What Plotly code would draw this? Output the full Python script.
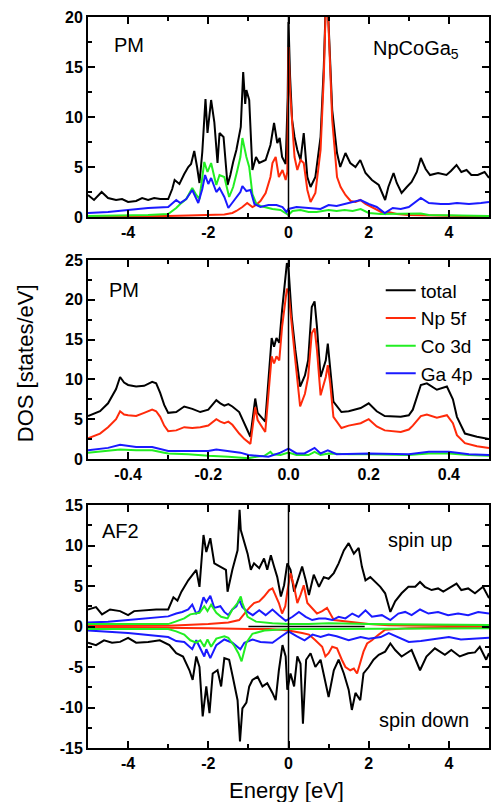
import plotly.graph_objects as go

# ---------------- Panel 1: PM, NpCoGa5, wide energy window ----------------
p1_total_x = [-5.0,-4.85,-4.66,-4.5,-4.3,-4.15,-4.0,-3.8,-3.65,-3.5,-3.35,-3.2,-3.0,-2.9,-2.84,-2.72,-2.6,-2.5,-2.43,-2.35,-2.28,-2.22,-2.15,-2.07,-2.02,-1.93,-1.85,-1.77,-1.72,-1.62,-1.52,-1.45,-1.38,-1.3,-1.19,-1.13,-1.08,-1.05,-0.98,-0.9,-0.81,-0.73,-0.57,-0.45,-0.36,-0.28,-0.22,-0.16,-0.07,-0.02,0.0,0.04,0.09,0.15,0.22,0.3,0.38,0.47,0.55,0.67,0.8,0.88,0.95,1.02,1.09,1.21,1.29,1.42,1.54,1.67,1.79,1.92,2.08,2.25,2.41,2.49,2.62,2.7,2.82,2.95,3.07,3.2,3.3,3.42,3.53,3.73,3.94,4.05,4.19,4.31,4.44,4.56,4.72,4.89,5.0]
p1_total_y = [2.2,1.7,2.5,1.9,1.7,1.8,1.5,1.6,1.9,1.7,1.9,1.8,1.8,2.8,3.7,3.3,4.3,5.0,5.3,6.6,5.0,3.4,6.5,11.8,8.4,11.7,9.5,5.4,8.4,8.0,3.2,4.2,5.5,6.7,9.0,14.5,11.3,12.7,11.7,4.7,6.0,5.4,5.7,7.2,9.4,7.4,7.9,6.0,5.3,12.0,19.5,14.0,9.7,8.0,6.7,5.7,8.4,4.0,3.0,4.0,8.0,15.0,24.0,18.0,10.7,6.4,5.0,6.4,5.4,5.0,5.7,4.4,3.7,3.2,1.7,3.0,4.4,3.4,2.4,3.0,3.5,4.5,5.9,4.8,4.2,4.4,4.2,4.6,5.2,4.5,4.7,4.2,4.2,4.5,3.9]

p1_np5f_x = [-5.0,-4.0,-3.0,-2.5,-2.0,-1.6,-1.4,-1.3,-1.15,-1.03,-0.9,-0.81,-0.7,-0.57,-0.45,-0.4,-0.32,-0.24,-0.15,-0.07,-0.03,0.0,0.04,0.09,0.15,0.22,0.3,0.38,0.47,0.55,0.67,0.8,0.88,0.95,1.02,1.09,1.21,1.3,1.42,1.55,1.67,1.79,1.92,2.08,2.25,2.41,2.5,2.7,3.0,3.5,4.0,5.0]
p1_np5f_y = [0.05,0.05,0.1,0.15,0.2,0.25,0.4,0.6,1.0,1.4,1.0,1.2,1.6,2.4,4.0,5.4,6.0,4.0,4.7,3.7,4.5,17.0,12.5,9.4,6.0,4.7,5.7,5.4,2.7,1.5,2.4,6.7,14.0,24.0,17.0,9.7,4.0,3.0,2.2,1.6,1.5,1.7,1.3,1.0,0.6,0.3,0.5,0.3,0.2,0.15,0.1,0.05]

p1_co3d_x = [-5.0,-4.0,-3.5,-3.0,-2.8,-2.7,-2.55,-2.4,-2.3,-2.22,-2.15,-2.1,-2.02,-1.93,-1.85,-1.8,-1.72,-1.6,-1.48,-1.38,-1.28,-1.2,-1.15,-1.1,-1.05,-0.98,-0.9,-0.8,-0.7,-0.6,-0.4,-0.2,-0.05,0.0,0.1,0.3,0.5,0.7,1.0,1.2,1.4,1.6,1.8,2.0,2.3,2.6,3.0,3.3,3.5,4.0,4.5,5.0]
p1_co3d_y = [0.1,0.15,0.2,0.3,0.9,1.3,1.8,2.9,2.2,1.8,4.0,5.5,4.5,5.4,4.0,3.2,4.2,4.0,2.0,3.0,4.6,6.0,7.9,6.8,6.0,5.0,2.3,1.3,1.1,1.0,0.8,0.7,0.3,0.2,0.6,0.7,0.5,0.5,0.7,0.6,0.7,0.6,0.8,0.4,0.3,0.3,0.3,0.35,0.2,0.15,0.1,0.1]

p1_ga4p_x = [-5.0,-4.5,-4.0,-3.5,-3.0,-2.8,-2.7,-2.55,-2.4,-2.25,-2.15,-2.08,-2.0,-1.93,-1.8,-1.72,-1.6,-1.5,-1.35,-1.2,-1.15,-1.05,-0.95,-0.85,-0.7,-0.5,-0.3,-0.15,-0.05,0.0,0.2,0.5,0.8,1.0,1.2,1.5,1.8,2.0,2.2,2.4,2.6,2.8,3.0,3.3,3.5,3.8,4.0,4.2,4.5,4.8,5.0]
p1_ga4p_y = [0.4,0.5,0.7,0.9,1.0,1.7,1.4,1.8,2.7,1.4,2.8,4.2,3.3,3.9,2.5,2.9,2.0,0.9,1.7,2.5,3.1,2.6,2.7,1.3,1.0,1.2,1.2,1.0,0.5,0.8,1.0,0.9,0.8,1.2,1.1,1.4,1.7,1.3,1.0,0.4,0.9,0.8,1.0,1.9,1.4,1.3,1.3,1.4,1.3,1.4,1.5]

# ---------------- Panel 2: PM, narrow window around E_F ----------------
p2_total_x = [-0.5,-0.47,-0.45,-0.43,-0.42,-0.41,-0.4,-0.38,-0.36,-0.34,-0.33,-0.32,-0.31,-0.3,-0.28,-0.26,-0.24,-0.22,-0.2,-0.18,-0.17,-0.16,-0.15,-0.14,-0.123,-0.11,-0.095,-0.083,-0.077,-0.058,-0.042,-0.036,-0.03,-0.023,-0.016,-0.004,0.0,0.008,0.017,0.029,0.041,0.049,0.058,0.065,0.071,0.08,0.086,0.093,0.098,0.104,0.112,0.132,0.15,0.18,0.2,0.22,0.24,0.28,0.3,0.31,0.33,0.345,0.37,0.395,0.41,0.42,0.44,0.47,0.5]
p2_total_y = [5.4,6.0,7.0,8.8,10.3,9.6,9.3,9.1,9.2,9.7,9.5,8.3,6.8,5.8,5.9,6.6,6.3,5.9,6.2,7.4,7.0,6.7,6.9,6.6,5.9,4.5,2.8,7.6,5.8,4.7,15.2,14.1,15.2,14.6,18.7,24.6,24.0,17.9,13.7,9.1,10.5,12.4,19.1,19.8,16.6,10.3,11.2,12.4,14.5,11.2,7.2,5.9,6.0,6.4,7.0,6.0,5.4,5.3,5.5,6.2,9.3,9.5,8.7,9.1,7.5,5.3,3.2,2.8,2.5]

p2_np5f_x = p2_total_x
p2_np5f_y = [2.6,3.2,4.0,5.0,6.0,5.6,5.5,5.4,5.8,6.2,6.0,5.3,4.2,3.5,3.6,4.0,3.9,4.0,4.2,5.0,4.7,4.5,4.7,4.3,3.2,2.5,1.9,6.5,4.9,3.4,12.9,12.0,12.9,12.4,16.6,21.4,21.0,16.6,12.4,6.6,8.2,10.3,15.8,16.4,13.7,8.0,9.1,10.3,11.8,9.5,5.3,3.9,4.2,4.5,5.0,4.1,3.6,3.4,3.7,4.2,5.4,5.6,5.2,5.5,4.5,3.0,2.0,1.6,1.4]

p2_co3d_x = [-0.5,-0.45,-0.42,-0.38,-0.34,-0.31,-0.3,-0.25,-0.2,-0.15,-0.12,-0.1,-0.08,-0.06,-0.045,-0.04,-0.02,0.0,0.02,0.05,0.065,0.08,0.1,0.15,0.2,0.3,0.35,0.4,0.45,0.5]
p2_co3d_y = [0.8,1.0,1.2,1.1,1.1,0.8,0.7,0.6,0.4,0.3,0.2,0.1,0.3,0.4,0.9,0.6,0.5,0.8,0.5,0.5,0.9,0.5,0.7,0.6,0.6,0.5,0.7,0.7,0.5,0.4]

p2_ga4p_x = [-0.5,-0.45,-0.42,-0.38,-0.34,-0.31,-0.3,-0.25,-0.2,-0.18,-0.15,-0.12,-0.1,-0.08,-0.05,-0.02,0.0,0.02,0.04,0.065,0.08,0.098,0.12,0.2,0.3,0.35,0.4,0.45,0.5]
p2_ga4p_y = [1.1,1.4,1.8,1.5,1.5,1.1,1.0,1.0,1.0,1.2,1.0,0.8,0.5,0.4,0.3,0.8,1.3,0.7,0.7,1.4,0.7,1.1,0.6,0.7,0.6,0.9,0.9,0.6,0.5]

# ---------------- Panel 3: AF2, spin up (+) and spin down (-) ----------------
p3_total_up_x = [-5.0,-4.8,-4.65,-4.45,-4.2,-4.0,-3.85,-3.6,-3.3,-3.0,-2.87,-2.77,-2.67,-2.5,-2.4,-2.3,-2.22,-2.12,-2.05,-1.95,-1.85,-1.72,-1.56,-1.52,-1.4,-1.27,-1.22,-1.19,-1.1,-1.02,-0.94,-0.86,-0.73,-0.61,-0.53,-0.44,-0.36,-0.28,-0.19,-0.11,-0.03,0.05,0.14,0.26,0.34,0.43,0.51,0.63,0.76,0.88,1.0,1.13,1.25,1.38,1.5,1.63,1.75,1.83,1.92,2.04,2.16,2.29,2.41,2.54,2.66,2.82,2.99,3.16,3.28,3.4,3.57,3.73,3.86,3.98,4.19,4.31,4.48,4.65,4.85,5.0]
p3_total_up_y = [2.1,2.4,1.5,2.1,1.9,1.4,1.9,2.0,2.1,2.1,3.6,3.2,4.3,5.7,6.3,7.0,4.9,11.3,9.2,10.9,7.8,7.4,7.0,4.3,7.0,9.4,14.4,11.9,10.3,9.0,7.0,7.8,7.2,8.4,7.0,8.8,7.4,6.1,3.7,5.1,7.8,7.0,4.3,6.1,7.4,5.7,3.9,6.4,4.9,6.1,5.9,6.6,7.8,9.4,10.3,9.0,9.7,7.4,5.7,6.1,5.5,4.9,4.1,1.8,3.1,4.1,4.9,4.9,5.5,4.9,4.5,4.7,4.3,4.7,5.3,4.5,4.7,4.1,4.9,3.5]

p3_total_dn_x = [-5.0,-4.8,-4.6,-4.4,-4.2,-4.0,-3.8,-3.5,-3.21,-2.97,-2.8,-2.63,-2.47,-2.39,-2.3,-2.22,-2.14,-2.05,-1.97,-1.89,-1.77,-1.68,-1.6,-1.48,-1.39,-1.27,-1.21,-1.15,-1.05,-0.98,-0.9,-0.77,-0.65,-0.53,-0.4,-0.32,-0.24,-0.15,-0.07,-0.03,0.05,0.14,0.22,0.3,0.36,0.44,0.55,0.67,0.8,0.88,1.0,1.13,1.25,1.38,1.5,1.58,1.67,1.79,1.87,2.0,2.12,2.25,2.41,2.54,2.66,2.82,3.07,3.28,3.44,3.65,3.9,4.06,4.27,4.48,4.65,4.77,4.93,5.0]
p3_total_dn_y = [-2.0,-2.3,-1.7,-2.0,-1.9,-1.4,-2.0,-1.9,-1.7,-2.3,-3.3,-3.7,-5.4,-6.6,-3.7,-5.0,-11.1,-7.4,-10.7,-5.8,-5.4,-7.4,-3.9,-4.1,-6.2,-9.1,-14.2,-10.1,-9.4,-7.4,-6.6,-6.2,-7.4,-7.0,-8.2,-9.1,-5.4,-2.3,-3.7,-7.8,-5.8,-7.4,-3.7,-4.6,-12.0,-4.1,-3.3,-5.0,-4.1,-5.8,-8.7,-5.4,-4.1,-5.8,-7.8,-10.3,-8.2,-9.1,-5.8,-5.0,-4.1,-3.5,-3.1,-2.1,-2.9,-3.7,-2.9,-5.4,-3.7,-2.7,-3.5,-2.9,-3.7,-3.3,-3.2,-2.5,-4.1,-3.3]

p3_np5f_up_x = [-5.0,-3.0,-2.0,-1.5,-1.23,-1.1,-0.98,-0.86,-0.73,-0.61,-0.48,-0.4,-0.32,-0.24,-0.16,-0.08,-0.03,0.05,0.14,0.22,0.3,0.38,0.47,0.59,0.71,0.84,0.96,1.13,1.33,1.6,2.0,2.5,3.0,4.0,5.0]
p3_np5f_up_y = [0.05,0.1,0.3,0.5,0.8,1.6,2.3,2.9,3.1,3.7,4.5,4.7,3.7,2.9,1.6,2.5,4.3,6.6,4.9,2.9,3.9,5.1,2.9,2.3,1.6,1.9,2.3,0.8,0.7,0.5,0.3,0.15,0.1,0.05,0.05]

p3_np5f_dn_x = [-5.0,-3.0,-2.0,-1.0,-0.5,-0.2,0.0,0.34,0.51,0.67,0.84,0.92,1.0,1.09,1.21,1.33,1.42,1.54,1.63,1.71,1.79,1.87,1.96,2.08,2.25,2.41,3.0,4.0,5.0]
p3_np5f_dn_y = [-0.05,-0.1,-0.2,-0.3,-0.3,-0.4,-0.5,-0.8,-1.0,-1.7,-2.5,-3.7,-3.3,-2.5,-2.7,-4.1,-5.0,-5.4,-5.2,-5.8,-4.5,-3.1,-2.1,-1.7,-1.0,-0.4,-0.2,-0.1,-0.05]

p3_co3d_up_x = [-5.0,-4.0,-3.0,-2.82,-2.6,-2.45,-2.22,-2.1,-2.02,-1.93,-1.8,-1.68,-1.52,-1.4,-1.27,-1.19,-1.15,-1.02,-0.81,-0.4,0.0,0.5,1.0,2.0,3.0,4.0,5.0]
p3_co3d_up_y = [0.3,0.3,0.3,0.6,1.0,1.5,1.7,2.5,1.9,2.7,1.7,1.2,1.0,2.1,2.9,3.7,2.9,1.2,0.6,0.4,0.3,0.3,0.4,0.3,0.25,0.2,0.2]

p3_co3d_dn_x = [-5.0,-4.0,-3.0,-2.8,-2.6,-2.45,-2.3,-2.2,-2.1,-2.02,-1.93,-1.8,-1.6,-1.5,-1.35,-1.25,-1.17,-1.05,-0.9,-0.6,0.0,1.0,3.0,5.0]
p3_co3d_dn_y = [-0.3,-0.3,-0.3,-0.6,-1.0,-1.7,-2.0,-1.7,-2.5,-1.6,-2.5,-1.5,-1.2,-1.4,-2.4,-3.3,-4.3,-2.0,-0.9,-0.5,-0.3,-0.3,-0.25,-0.2]

p3_ga4p_up_x = [-5.0,-4.5,-4.0,-3.5,-3.0,-2.8,-2.65,-2.5,-2.4,-2.3,-2.22,-2.12,-2.05,-1.95,-1.85,-1.7,-1.6,-1.5,-1.4,-1.3,-1.23,-1.15,-1.02,-0.89,-0.73,-0.57,-0.4,-0.24,-0.07,0.1,0.26,0.43,0.59,0.76,0.92,1.09,1.25,1.42,1.59,1.75,1.92,2.08,2.33,2.54,2.74,2.91,3.07,3.28,3.49,3.73,3.98,4.23,4.48,4.73,5.0]
p3_ga4p_up_y = [0.5,0.6,0.8,1.0,1.25,1.6,1.8,2.1,2.7,1.6,1.9,3.6,3.0,3.8,2.3,2.5,1.8,1.4,2.1,2.5,3.3,2.4,1.8,1.4,2.0,1.4,2.1,1.4,0.7,1.2,1.8,1.2,0.8,1.0,1.0,0.8,1.2,1.0,1.6,1.2,2.0,1.2,1.4,0.8,1.6,1.8,1.4,2.1,1.6,1.8,1.4,1.6,1.4,1.8,1.6]

p3_ga4p_dn_x = [-5.0,-4.0,-3.0,-2.8,-2.6,-2.4,-2.3,-2.1,-2.05,-1.95,-1.8,-1.6,-1.4,-1.2,-1.1,-0.9,-0.7,-0.4,-0.2,0.0,0.2,0.4,0.6,0.8,1.0,1.2,1.5,1.8,2.0,2.3,2.5,2.8,3.0,3.3,3.6,4.0,4.3,4.6,5.0]
p3_ga4p_dn_y = [-0.5,-0.8,-1.3,-1.8,-1.9,-2.8,-1.7,-3.7,-2.8,-3.9,-2.3,-1.6,-2.0,-2.8,-2.0,-1.6,-1.9,-2.0,-1.3,-0.6,-1.2,-1.7,-1.0,-1.3,-1.0,-1.2,-1.7,-1.3,-1.5,-1.3,-0.8,-1.5,-1.9,-1.8,-1.6,-1.3,-1.6,-1.5,-1.4]

p3_ref_x = [-1.0, 1.9]
p3_ref_y = [0.0, 0.0]

# ---------------- tick labels ----------------
wide_ticks = [-4, -2, 0, 2, 4]
wide_ticktext = ["-4", "-2", "0", "2", "4"]
narrow_ticks = [-0.4, -0.2, 0.0, 0.2, 0.4]
narrow_ticktext = ["-0.4", "-0.2", "0.0", "0.2", "0.4"]
p1_yticks = [0, 5, 10, 15, 20]
p1_yticktext = ["0", "5", "10", "15", "20"]
p2_yticks = [0, 5, 10, 15, 20, 25]
p2_yticktext = ["0", "5", "10", "15", "20", "25"]
p3_yticks = [-15, -10, -5, 0, 5, 10, 15]
p3_yticktext = ["-15", "-10", "-5", "0", "5", "10", "15"]

COL = {"total": "#000000", "Np 5f": "#ff2a0a", "Co 3d": "#22ee22", "Ga 4p": "#1a1aff"}
LW = 2.0
FONT = "Arial, Liberation Sans, sans-serif"

fig = go.Figure()

def add(x, y, name, xa, ya, legend=False):
    fig.add_trace(go.Scatter(x=x, y=y, mode="lines", name=name,
                             line=dict(color=COL[name], width=LW),
                             xaxis=xa, yaxis=ya, showlegend=legend,
                             legendgroup=name))

# panel 1
add(p1_total_x, p1_total_y, "total", "x", "y")
add(p1_np5f_x, p1_np5f_y, "Np 5f", "x", "y")
add(p1_co3d_x, p1_co3d_y, "Co 3d", "x", "y")
add(p1_ga4p_x, p1_ga4p_y, "Ga 4p", "x", "y")
# panel 2 (legend)
add(p2_total_x, p2_total_y, "total", "x2", "y2", True)
add(p2_np5f_x, p2_np5f_y, "Np 5f", "x2", "y2", True)
add(p2_co3d_x, p2_co3d_y, "Co 3d", "x2", "y2", True)
add(p2_ga4p_x, p2_ga4p_y, "Ga 4p", "x2", "y2", True)
# panel 3
add(p3_total_up_x, p3_total_up_y, "total", "x3", "y3")
add(p3_total_dn_x, p3_total_dn_y, "total", "x3", "y3")
add(p3_np5f_up_x, p3_np5f_up_y, "Np 5f", "x3", "y3")
add(p3_np5f_dn_x, p3_np5f_dn_y, "Np 5f", "x3", "y3")
add(p3_ga4p_up_x, p3_ga4p_up_y, "Ga 4p", "x3", "y3")
add(p3_ga4p_dn_x, p3_ga4p_dn_y, "Ga 4p", "x3", "y3")
add(p3_co3d_up_x, p3_co3d_up_y, "Co 3d", "x3", "y3")
add(p3_co3d_dn_x, p3_co3d_dn_y, "Co 3d", "x3", "y3")
fig.add_trace(go.Scatter(x=p3_ref_x, y=p3_ref_y, mode="lines", showlegend=False,
                         line=dict(color="black", width=1.5), xaxis="x3", yaxis="y3"))

tickfont = dict(family=FONT, size=16, color="black", weight="bold")

def xax(rng, tv, tt, minor_dtick, anchor):
    return dict(range=rng, tickvals=tv, ticktext=tt, ticks="inside", ticklen=7,
                tickwidth=1.5, tickcolor="black", showline=True, linecolor="black",
                linewidth=2, mirror="ticks", showgrid=False, zeroline=False,
                tickfont=tickfont, anchor=anchor, domain=[0, 1],
                minor=dict(ticks="inside", ticklen=4, tickwidth=1.5, tickcolor="black",
                           dtick=minor_dtick, tick0=0, showgrid=False))

def yax(rng, tv, tt, minor_dtick, anchor, dom):
    return dict(range=rng, tickvals=tv, ticktext=tt, ticks="inside", ticklen=7,
                tickwidth=1.5, tickcolor="black", showline=True, linecolor="black",
                linewidth=2, mirror="ticks", showgrid=False, zeroline=False,
                tickfont=tickfont, anchor=anchor, domain=dom,
                minor=dict(ticks="inside", ticklen=4, tickwidth=1.5, tickcolor="black",
                           dtick=minor_dtick, tick0=0, showgrid=False))

fig.update_layout(
    width=492, height=802,
    margin=dict(l=88, r=1, t=17, b=54),
    paper_bgcolor="white", plot_bgcolor="white",
    font=dict(family=FONT, color="black"),
    xaxis=xax([-5, 5], wide_ticks, wide_ticktext, 1, "y"),
    yaxis=yax([0, 20], p1_yticks, p1_yticktext, 2.5, "x", [0.7264, 1.0]),
    xaxis2=xax([-0.5, 0.5], narrow_ticks, narrow_ticktext, 0.1, "y2"),
    yaxis2=yax([0, 25], p2_yticks, p2_yticktext, 2.5, "x2", [0.3953, 0.6676]),
    xaxis3=xax([-5, 5], wide_ticks, wide_ticktext, 1, "y3"),
    yaxis3=yax([-15, 15], p3_yticks, p3_yticktext, 2.5, "x3", [0.0, 0.3324]),
    legend=dict(x=0.73, y=0.652, xanchor="left", yanchor="top",
                bgcolor="rgba(0,0,0,0)", font=dict(size=19, family=FONT),
                tracegroupgap=0, itemwidth=30),
    showlegend=True,
)

# vertical Fermi-level lines
for xa, ya in (("x", "y"), ("x2", "y2"), ("x3", "y3")):
    fig.add_shape(type="line", xref=xa, yref=ya + " domain", x0=0, x1=0, y0=0, y1=1,
                  line=dict(color="black", width=1.5))

def label(text, xref, yref, x, y, size=20):
    fig.add_annotation(text=text, xref=xref, yref=yref, x=x, y=y,
                       xanchor="left", yanchor="middle", showarrow=False,
                       font=dict(size=size, family=FONT, color="black"))

label("PM", "x domain", "y domain", 0.06, 0.86)
label("NpCoGa<sub>5</sub>", "x domain", "y domain", 0.705, 0.84)
label("PM", "x2 domain", "y2 domain", 0.047, 0.85)
label("AF2", "x3 domain", "y3 domain", 0.03, 0.893)
label("spin up", "x3 domain", "y3 domain", 0.742, 0.856)
label("spin down", "x3 domain", "y3 domain", 0.72, 0.115)

fig.add_annotation(text="DOS [states/eV]", xref="paper", yref="paper", x=-0.156, y=0.527,
                   textangle=-90, showarrow=False, xanchor="center", yanchor="middle",
                   font=dict(size=22, family=FONT, color="black"))
fig.add_annotation(text="Energy [eV]", xref="paper", yref="paper", x=0.496, y=-0.0575,
                   showarrow=False, xanchor="center", yanchor="middle",
                   font=dict(size=22, family=FONT, color="black"))

fig.write_html("out.html")
